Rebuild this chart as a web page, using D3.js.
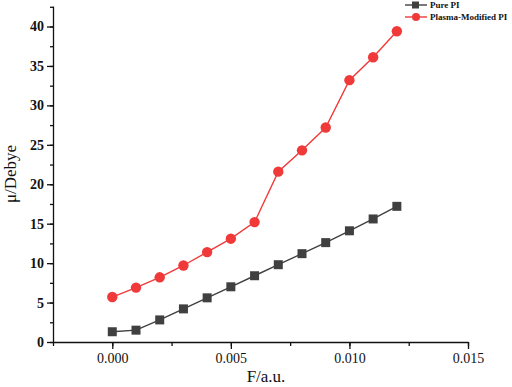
<!DOCTYPE html>
<html>
<head>
<meta charset="utf-8">
<script src="https://cdnjs.cloudflare.com/ajax/libs/d3/7.8.5/d3.min.js"></script>
<style>
  body { margin: 0; background: #fff; }
</style>
</head>
<body>
<div id="chart"></div>
<script>
// data
const fieldValues = [0, 0.001, 0.002, 0.003, 0.004, 0.005, 0.006, 0.007, 0.008, 0.009, 0.010, 0.011, 0.012];
const purePI = [1.3, 1.5, 2.8, 4.2, 5.6, 7.0, 8.4, 9.8, 11.2, 12.6, 14.1, 15.6, 17.2];
const plasmaPI = [5.7, 6.9, 8.2, 9.7, 11.4, 13.1, 15.2, 21.6, 24.3, 27.2, 33.2, 36.1, 39.4];
const xTicks = [0, 0.005, 0.010, 0.015];
const yTicks = [0, 5, 10, 15, 20, 25, 30, 35, 40];
const seriesNames = ['Pure PI', 'Plasma-Modified PI'];

const W = 512, H = 387;
const margin = { top: 6, right: 44, bottom: 45, left: 53 };
const width = W - margin.left - margin.right;
const height = H - margin.top - margin.bottom;

const svg = d3.select('#chart').append('svg')
    .attr('width', W).attr('height', H);
const g = svg.append('g').attr('transform', `translate(${margin.left},${margin.top})`);

const x = d3.scaleLinear().domain([-0.0025, 0.015]).range([0, width]);
const y = d3.scaleLinear().domain([0, 42.6]).range([height, 0]);

const serif = '"Liberation Serif", "Times New Roman", serif';
const grey = '#404040';
const red = '#f03a3a';

// axes - major + minor ticks
const xMinor = d3.range(-0.0025, 0.0151, 0.0025);
const yMinor = d3.range(0, 42.6, 2.5);

const xAxisG = g.append('g').attr('transform', `translate(0,${height})`);
xAxisG.append('g')
    .call(d3.axisBottom(x).tickValues(xMinor).tickSize(4).tickFormat(''))
    .call(s => s.select('.domain').remove());
xAxisG.append('g')
    .call(d3.axisBottom(x).tickValues(xTicks).tickSize(7).tickSizeOuter(0).tickPadding(4).tickFormat(d3.format('.3f')))
    .style('font-family', serif).style('font-size', '14px');

const yAxisG = g.append('g');
yAxisG.append('g')
    .call(d3.axisLeft(y).tickValues(yMinor).tickSize(3).tickFormat(''))
    .call(s => s.select('.domain').remove());
yAxisG.append('g')
    .call(d3.axisLeft(y).tickValues(yTicks).tickSize(6).tickSizeOuter(0).tickPadding(3))
    .style('font-family', serif).style('font-size', '14px').style('font-weight', 'bold');

g.selectAll('.domain, .tick line').attr('stroke', '#111').attr('stroke-width', 1.3);
g.selectAll('.tick text').attr('fill', '#111');

// axis titles
svg.append('text')
    .attr('x', 266).attr('y', 382)
    .attr('text-anchor', 'middle')
    .style('font-family', serif).style('font-size', '17px').attr('fill', '#111')
    .text('F/a.u.');

svg.append('text')
    .attr('transform', 'translate(16,174) rotate(-90)')
    .attr('text-anchor', 'middle')
    .style('font-family', serif).style('font-size', '17px').attr('fill', '#111')
    .text('μ/Debye');

// lines
const line = d3.line().x(d => x(d[0])).y(d => y(d[1]));
const pureData = fieldValues.map((f, i) => [f, purePI[i]]);
const plasmaData = fieldValues.map((f, i) => [f, plasmaPI[i]]);

g.append('path').datum(pureData).attr('d', line)
    .attr('fill', 'none').attr('stroke', grey).attr('stroke-width', 1.4);
g.selectAll('.sq').data(pureData).join('rect')
    .attr('x', d => x(d[0]) - 4.5).attr('y', d => y(d[1]) - 4.5)
    .attr('width', 9).attr('height', 9).attr('fill', grey);

g.append('path').datum(plasmaData).attr('d', line)
    .attr('fill', 'none').attr('stroke', red).attr('stroke-width', 1.4);
g.selectAll('.dot').data(plasmaData).join('circle')
    .attr('cx', d => x(d[0])).attr('cy', d => y(d[1]))
    .attr('r', 5.2).attr('fill', red);

// legend
const legend = svg.append('g').attr('transform', 'translate(405,5)');
seriesNames.forEach((name, i) => {
    const row = legend.append('g').attr('transform', `translate(0,${i * 12})`);
    const c = i === 0 ? grey : red;
    row.append('line').attr('x1', 0).attr('x2', 22).attr('y1', 0).attr('y2', 0)
        .attr('stroke', c).attr('stroke-width', 1.4);
    if (i === 0) {
        row.append('rect').attr('x', 7).attr('y', -3.5).attr('width', 7).attr('height', 7).attr('fill', c);
    } else {
        row.append('circle').attr('cx', 11).attr('cy', 0).attr('r', 4).attr('fill', c);
    }
    row.append('text').attr('x', 25).attr('y', 3)
        .style('font-family', serif).style('font-size', '9px').style('font-weight', 'bold')
        .attr('fill', '#111').text(name);
});
</script>
</body>
</html>
